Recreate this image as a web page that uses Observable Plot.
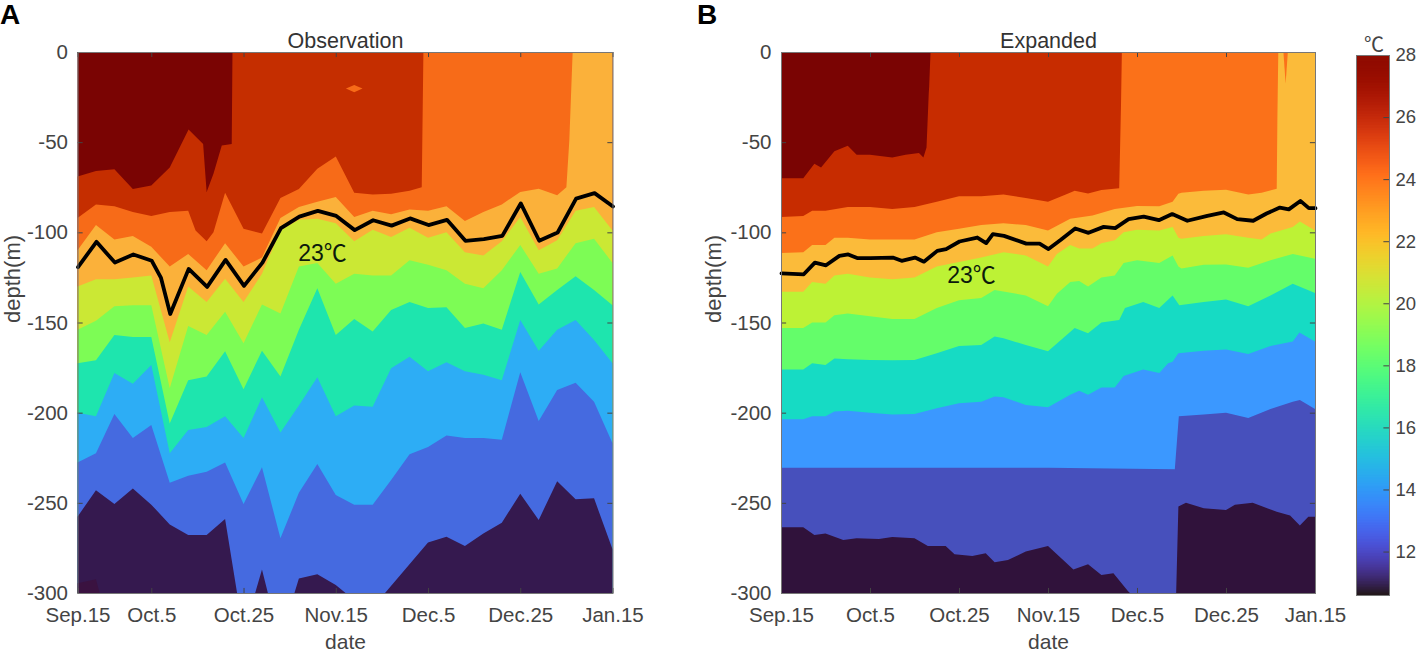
<!DOCTYPE html>
<html>
<head>
<meta charset="utf-8">
<script src="https://cdn.jsdelivr.net/npm/d3@7"></script>
<script src="https://cdn.jsdelivr.net/npm/@observablehq/plot@0.6"></script>
<style>
html,body{margin:0;padding:0;background:#fff;}
#stage{position:relative;width:1417px;height:653px;overflow:hidden;font-family:"Liberation Sans",Arial,sans-serif;}
#stage svg{position:absolute;top:0;overflow:visible;background:transparent;}
.letter{position:absolute;font:bold 28px "Liberation Sans",Arial,sans-serif;color:#000;line-height:28px;}
</style>
</head>
<body>
<div id="stage">
<div class="letter" style="left:0;top:1px">A</div>
<div class="letter" style="left:697px;top:1px">B</div>
</div>
<script>
const dateLabels = ["Sep.15","Oct.5","Oct.25","Nov.15","Dec.5","Dec.25","Jan.15"];
const depthTicks = [0,-50,-100,-150,-200,-250,-300];
const barTicks = [12,14,16,18,20,22,24,26,28];
const obsTicks = [0,4,9,14,19,24,29];
const expTicks = [0,20,40,60,80,100,120];

const obsColors = ["#7a0403","#c52e00","#f76b18","#fbb13a","#cbe834","#7dfc55","#1ee5ae","#2dadf5","#456ae0","#35194f"];
const expColors = ["#7a0403","#c72c00","#fb7119","#fbbb3a","#bdf235","#64fd6a","#16dbc4","#3b98ff","#4750bc","#30123b"];

// Observation: [sample index, depth] along each colour boundary
const obsTop = [[0,0],[29,0]];
const obs27 = [[0,69],[1,66],[2,65],[3,76],[4,74],[5,64],[6.02,43],[6.81,51],[7,77.6],[7.37,67.5],[7.82,51.8],[8.36,51],[8.4,0],[29,0]];
const obs25 = [[0,92],[1,84.5],[2,85.6],[3,88.7],[4,91],[5,88.7],[6,88],[6.4,99],[7,105],[7.37,100],[8,78],[9,98],[10,100.7],[11,81],[12,76],[13,64.7],[14,58],[15,78],[16,79],[17,78.6],[18,77],[18.66,75],[18.75,0],[29,0]];
const obs24 = [[0,110],[1,96],[2,104],[3,102],[4,108],[5,119],[6,112],[7,121],[8,106],[9,119],[10,114],[11,92],[12,86],[13,83],[14,80.4],[15,91.5],[16,88],[17,90],[18,87.4],[19,88],[20,85.6],[21,93.7],[22,88.7],[23,84.5],[24,77.6],[25,75.8],[26,79.5],[26.5,75],[26.66,49],[26.84,0],[29,0]];
const obs22 = [[0,130],[1,126],[2,126],[3,125],[4,124],[5,161],[6,130],[7,138.6],[8,125.7],[9,138.6],[10,123],[11,99],[12,93],[13,92.4],[14,95],[15,105],[16,98.5],[17,102.6],[18,97.4],[19,103],[20,100],[21,111],[22,112.8],[23,105],[24,91.5],[25,110],[26,104.4],[27,88],[28,86],[29,99]];
const obs20 = [[0,154],[1,149],[2,141],[3,140.5],[4,140.5],[5,186.5],[6,152],[7,157],[8,144],[9,161.5],[10,140],[11,145],[12,119],[13,117],[14,128.5],[15,123],[16,124],[17,124],[18,115.5],[19,118],[20,121],[21,128.5],[22,131],[23,121],[24,107],[25,123],[26,120],[27,106],[28,103.5],[29,117]];
const obs18 = [[0,172.6],[1,171],[2,157],[3,158],[4,158],[5,206],[6,182],[7,180],[8,166],[9,187],[10,165.6],[11,180],[12,154],[13,131],[14,157],[15,148],[16,155],[17,143],[18,138.6],[19,142],[20,141.5],[21,153],[22,150.6],[23,154],[24,122],[25,140],[26,132],[27,124.4],[28,132],[29,140.5]];
const obs16 = [[0,200],[1,202],[2,178],[3,184],[4,173.6],[5,222.5],[6,209.6],[7,208],[8,202],[9,214],[10,191.5],[11,211],[12,196],[13,180.4],[14,202],[15,196],[16,196.7],[17,175.4],[18,169],[19,177],[20,172],[21,177],[22,179],[23,182],[24,148.6],[25,165.6],[26,154],[27,148.6],[28,159.7],[29,172.6]];
const obs14 = [[0,227.7],[1,222.5],[2,200.7],[3,214],[4,206.8],[5,238.8],[6,235],[7,232.7],[8,227.7],[9,250.6],[10,230.3],[11,269.7],[12,244.4],[13,228.4],[14,245.6],[15,251],[16,251],[17,237.3],[18,223],[19,219],[20,212.7],[21,214],[22,214],[23,215],[24,177.6],[25,204.6],[26,187.4],[27,183.4],[28,194],[29,217]];
const obs12 = [[0,257.7],[1,243],[2,250.6],[3,242],[4,251],[5,262],[6,267.8],[7,267.8],[8,259],[8.65,300],[9.63,300],[10,287],[10.32,300],[11.76,300],[12,292],[13,289.6],[14,295.5],[14.53,300],[16.67,300],[19,272],[20,268.8],[21,274],[22,267],[23,261],[24,245],[25,259.5],[26,238],[27,248],[28,247.5],[29,275.8]];
const obs23 = [[0,119],[1,105],[2,116.5],[3,112],[4,115.5],[4.5,125],[5,145],[6,120],[7,130],[8,115],[9,129.4],[10,116.5],[11,97.4],[12,91],[13,87.8],[14,90.6],[15,98.5],[16,93],[17,96],[18,92],[19,95.7],[20,92.8],[21,104.4],[22,103.5],[23,101.7],[24,83.7],[25,104.4],[26,99.8],[27,81],[28,78],[29,85.4]];
const obsPatch = [[14.55,20.3,20.3],[15,18.3,22.3],[15.45,20.3,20.3]];
const obsCold = [[0,294.6],[1,292.4],[1.2,300]];

// Expanded: [sample index, depth] along each colour boundary
const expTop = [[0,0],[120,0]];
const exp27 = [[0,70],[5,70],[7.5,62],[9,64],[12,55],[15,52],[17,57],[20,57],[25,58.5],[28,57],[31,56],[32,58.5],[32.7,53],[33.2,23],[33.3,19],[33.6,0],[120,0]];
const exp25 = [[0,91.5],[5,91],[7,88],[10,88],[15,86],[20,86],[25,87],[30,86],[35,83],[40,80],[45,80],[50,79],[55,81],[60,83],[64,79],[66,77],[69,78.5],[72,76.5],[76,75.5],[76.4,30],[76.6,0],[120,0]];
const exp24 = [[0,111.5],[5,111],[7,107],[10,107],[12,103],[15,103],[20,104],[25,104],[30,104],[35,100],[40,98],[45,96],[50,95],[55,96],[60,99],[65,92.4],[70,90.6],[75,87],[80,85.4],[85,85.6],[88,83],[89.3,78.6],[90,78],[95,77],[100,76.4],[105,79],[108,78],[111.4,75.8],[111.55,36],[111.75,0],[120,0]];
const exp22 = [[0,133],[5,133],[7,127.5],[10,128.5],[12,124],[15,123],[20,125],[25,126],[30,125],[35,119],[40,116.5],[45,114],[50,111],[55,112.8],[60,119],[62,112],[65,107],[67,109],[70,109],[72,106],[75,104.4],[77,100],[80,98.5],[85,99],[88,97],[89.3,103],[90,103.5],[95,102],[100,101],[105,103],[108,104],[110,100.7],[115,97],[116.6,94],[120,99]];
const exp20 = [[0,153],[5,153],[7,150],[10,150],[12,146],[15,145],[20,146.6],[25,148],[30,148],[35,142],[40,137.7],[45,136.4],[48,132],[55,135],[60,141],[62,134],[65,127.5],[67,127],[69,130],[72,125],[75,124],[77,117],[80,115.5],[85,117],[88,112.8],[89.3,119],[90,120],[95,118],[100,117.9],[105,119.6],[110,115.5],[115,112],[120,114.6]];
const exp18 = [[0,176],[5,176],[7,172.6],[10,173.5],[12,170],[15,170.4],[20,170.8],[25,171],[30,170.8],[35,167],[40,163],[45,162.5],[48,157.8],[50,158.8],[55,162.5],[60,166],[66,153],[69,156],[72,150],[76,148.6],[77.3,142],[81.4,138.6],[85,142],[88,135],[89.5,140.5],[95,138.6],[100,137.3],[105,141],[110,135],[115,128.5],[120,133.6]];
const exp16 = [[0,203.7],[5,203.7],[7,202],[10,202],[12,199.4],[15,199],[20,200],[25,201],[30,200.7],[35,197.6],[40,194.8],[45,194],[48,191],[50,191.5],[55,195.7],[60,197],[65,190],[67,187.8],[69,190],[72,186],[75,186],[77,179.6],[81.4,176],[85,178],[87,172.6],[88,171.7],[89.3,167],[95,165.6],[100,165],[105,167.5],[110,163],[115,160.6],[116.5,155.6],[120,160.6]];
const exp14 = [[0,230.5],[60,230.5],[88.5,231.4],[89.4,202],[95,201],[100,200],[105,203],[110,198],[115,194],[116.6,193],[120,198]];
const exp12 = [[0,263.6],[5,263.6],[7.5,267.8],[10,267],[14,270.6],[17,269.7],[22,270],[25,269],[30,269.7],[33,274],[37,274],[39,278.5],[43,279.5],[46,278],[48,283],[51,281.7],[55,277],[60,274],[63.4,281.7],[65.7,287],[69,284],[72,290],[74.7,289],[78,299],[78.4,300],[88.8,300],[89.3,252],[91,250],[95,253],[100,254],[102,251],[106,250],[111.4,255],[114.4,257],[116.6,262.6],[118.5,257.7],[120,257.7]];
const exp23 = [[0,122.5],[5,123],[7.5,116.5],[10,118],[13,112.8],[15,112],[17,114],[20,114],[25,113.7],[27,115.5],[30,113.7],[32,116],[35,110],[37,109],[40,104.8],[44,102.6],[46,105.7],[47.5,100.7],[50,101.7],[55,106],[58,106],[60,109],[62.7,104],[66,97.6],[69,100],[72.4,96.7],[75,97.4],[78,92.4],[81.4,91],[84.8,93],[87.8,89.6],[91.2,93.3],[95.7,90.6],[99.4,88.7],[102.4,92.4],[106,93.3],[109,89.3],[112,86],[114,87],[116.6,82.3],[118.5,86.3],[120,86.3]];
const expPatch = [[112.9,0,0],[113.4,0,17.5],[113.9,0,0]];

const barLevels = d3.range(10.6, 28, 0.05);

const FONT = '"Liberation Sans",Arial,sans-serif';
const GREY = "#444";

function panel({title, left, width, marginLeft, marginRight, xMax, ticks, bands, colors, line, patch, patchFill, cold, note, tickX, ylabelDx}) {
  const marks = [];
  bands.forEach((pts, k) => {
    marks.push(Plot.areaY(pts, {x: d => d[0], y1: d => -d[1], y2: () => -300, fill: colors[k], curve: "linear"}));
  });
  marks.push(Plot.areaY(patch, {x: d => d[0], y1: d => -d[1], y2: d => -d[2], fill: patchFill}));
  if (cold) marks.push(Plot.areaY(cold, {x: d => d[0], y1: d => -d[1], y2: () => -300, fill: "#3a1240"}));
  marks.push(Plot.line(line, {x: d => d[0], y: d => -d[1], stroke: "#000", strokeWidth: 3.8, curve: "linear", strokeLinejoin: "round"}));
  marks.push(Plot.text(["23℃"], {x: note[0], y: -note[1], fill: "#0c1a0c", fontSize: 23, fontFamily: FONT + ',"Noto Sans CJK SC"'}));
  marks.push(Plot.ruleX(ticks, {x: d => d, y1: 0, y2: -2.8, stroke: GREY}));
  marks.push(Plot.ruleX(ticks, {x: d => d, y1: -300, y2: -297.2, stroke: GREY}));
  marks.push(Plot.ruleY(depthTicks, {y: d => d, x1: 0, x2: tickX, stroke: GREY}));
  marks.push(Plot.ruleY(depthTicks, {y: d => d, x1: xMax, x2: xMax - tickX, stroke: GREY}));
  marks.push(Plot.frame({stroke: "#777", strokeWidth: 1}));
  marks.push(Plot.axisX({ticks, tickSize: 0, tickPadding: 14, fontSize: 20.5, fill: GREY,
    tickFormat: d => dateLabels[ticks.indexOf(d)], label: null}));
  marks.push(Plot.axisY({ticks: depthTicks, tickSize: 0, tickPadding: 10, fontSize: 20.5, fill: GREY,
    tickFormat: d => String(d), label: null}));
  marks.push(Plot.text(["date"], {frameAnchor: "bottom", lineAnchor: "middle", dy: 49, fill: GREY, fontSize: 21, fontFamily: FONT}));
  marks.push(Plot.text(["depth(m)"], {frameAnchor: "left", rotate: -90, lineAnchor: "middle", dx: ylabelDx, fill: GREY, fontSize: 22, fontFamily: FONT}));
  marks.push(Plot.text([title], {frameAnchor: "top", lineAnchor: "bottom", dy: -5, fill: "#333", fontSize: 21.5, fontFamily: FONT}));
  const svg = Plot.plot({
    width, height: 653, marginLeft, marginRight, marginTop: 52, marginBottom: 60,
    style: {fontFamily: FONT, fontSize: "20.5px", background: "transparent", overflow: "visible"},
    x: {domain: [0, xMax], axis: null},
    y: {domain: [-300, 0], axis: null},
    marks
  });
  svg.style.left = left + "px";
  document.getElementById("stage").appendChild(svg);
}

panel({title: "Observation", left: 0, width: 660, marginLeft: 77.5, marginRight: 47.5, xMax: 29, ticks: obsTicks,
  bands: [obsTop,obs27,obs25,obs24,obs22,obs20,obs18,obs16,obs14,obs12], colors: obsColors,
  line: obs23, patch: obsPatch, patchFill: obsColors[2], cold: obsCold, note: [13.25,111.6], tickX: 0.28, ylabelDx: -65.5});

panel({title: "Expanded", left: 700, width: 650, marginLeft: 81, marginRight: 35, xMax: 120, ticks: expTicks,
  bands: [expTop,exp27,exp25,exp24,exp22,exp20,exp18,exp16,exp14,exp12], colors: expColors,
  line: exp23, patch: expPatch, patchFill: expColors[2], cold: null, note: [42.7,123.7], tickX: 1.15, ylabelDx: -68});

const bar = Plot.plot({
  width: 67, height: 653, marginLeft: 6, marginRight: 28, marginTop: 55, marginBottom: 58,
  style: {fontFamily: FONT, fontSize: "18.5px", background: "transparent", overflow: "visible"},
  x: {domain: [0, 1], axis: null},
  y: {domain: [10.6, 28], axis: null},
  color: {type: "linear", scheme: "turbo", domain: [10.6, 28]},
  marks: [
    Plot.rect(barLevels, {x1: 0, x2: 1, y1: d => d, y2: d => Math.min(28, d + 0.2), fill: d => d}),
    Plot.ruleY(barTicks, {y: d => d, x1: 0.83, x2: 1, stroke: GREY}),
    Plot.frame({stroke: "#777", strokeWidth: 1}),
    Plot.axisY({anchor: "right", ticks: barTicks, tickSize: 0, tickPadding: 6, fontSize: 18.5, fill: GREY, label: null, tickFormat: d => String(d)}),
    Plot.text(["℃"], {frameAnchor: "top", lineAnchor: "bottom", dy: -4, dx: 1, fill: "#444", fontSize: 20, fontFamily: '"Noto Sans CJK SC"'})
  ]
});
bar.style.left = "1350px";
document.getElementById("stage").appendChild(bar);
</script>
</body>
</html>
